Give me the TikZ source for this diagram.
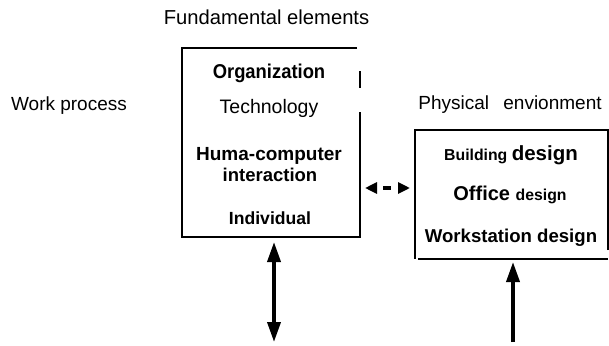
\documentclass[tikz,border=0pt]{standalone}
\usepackage{fontspec}
\setmainfont{Liberation Sans}
\newfontfamily\narrowfont{Liberation Sans}[FakeStretch=0.92]
\usetikzlibrary{arrows.meta}
\tikzset{
  bigtip/.tip={Triangle[length=20pt,width=13pt]},
  smalltip/.tip={Triangle[length=12pt,width=11pt]}}
\begin{document}
\begin{tikzpicture}[x=1pt,y=-1pt,
  boxline/.style={line width=2.7pt},
  lbl/.style={anchor=base,inner sep=0pt},
  arr/.style={line width=3.6pt}]
\useasboundingbox (0,0) rectangle (609,345);
% boxes (frames only)
\node[minimum width=178pt,minimum height=189pt,inner sep=0pt,outer sep=0pt] (L) at (271,142.5) {};
\node[minimum width=193pt,minimum height=129pt,inner sep=0pt,outer sep=0pt] (R) at (511.5,194.5) {};
\draw[boxline] (L.north east) ++(-3,0) -- (L.north west) -- (L.south west) -- (L.south east) -- ++(0,-125);
\draw[boxline] (L.north east) ++(0,23) -- ++(0,17);
\draw[boxline] (R.south west) ++(3,0) -- (R.south east);
\draw[boxline] (R.south east) ++(0,-9) -- (R.north east) -- (R.north west) -- (R.south west);
% outside labels
\node[lbl,font=\fontsize{20.2}{24}\selectfont] (fe) at (266.5,25) {Fundamental elements};
\node[lbl,font=\fontsize{19}{23}\selectfont] (wp) at (69,110) {Work process};
\node[lbl,font=\fontsize{19}{23}\selectfont] (pe) at (510,109.5) {Physical\hspace{9pt} envionment};
% left box contents
\node[lbl,font=\narrowfont\bfseries\fontsize{20}{24}\selectfont] (org) at (269,78) {Organization};
\node[lbl,font=\fontsize{19.5}{23}\selectfont] (tec) at (269,113) {Technology};
\node[lbl,font=\bfseries\fontsize{19}{23}\selectfont] (hc) at (269,160) {Huma-computer};
\node[lbl,font=\bfseries\fontsize{18.5}{23}\selectfont] (ia) at (270,181) {interaction};
\node[lbl,font=\bfseries\fontsize{17.6}{22}\selectfont] (ind) at (270,224) {Individual};
% right box contents
\node[lbl,font=\bfseries] (bd) at (511,160) {\fontsize{15.8}{20}\selectfont Building \fontsize{20.5}{24}\selectfont design};
\node[lbl,font=\bfseries] (od) at (510,200.5) {\fontsize{20}{24}\selectfont Office \fontsize{15.8}{20}\selectfont design};
\node[lbl,font=\bfseries\fontsize{18.6}{23}\selectfont] (wd) at (511,242.5) {Workstation design};
% connectors
\coordinate (dl) at (365,188);
\coordinate (dr) at (410,188);
\draw[line width=3.2pt,dash pattern=on 0pt off 7pt on 8pt off 20pt,{smalltip}-{smalltip}] (dl) -- (dr);
\coordinate (lt) at (274,242);
\coordinate (lbot) at (274,342);
\draw[arr,{bigtip}-{bigtip}] (lt) -- (lbot);
\coordinate (rt) at (513,262);
\coordinate (rbot) at (513,342);
\draw[arr,-{bigtip}] (rbot) -- (rt);
\end{tikzpicture}
\end{document}
